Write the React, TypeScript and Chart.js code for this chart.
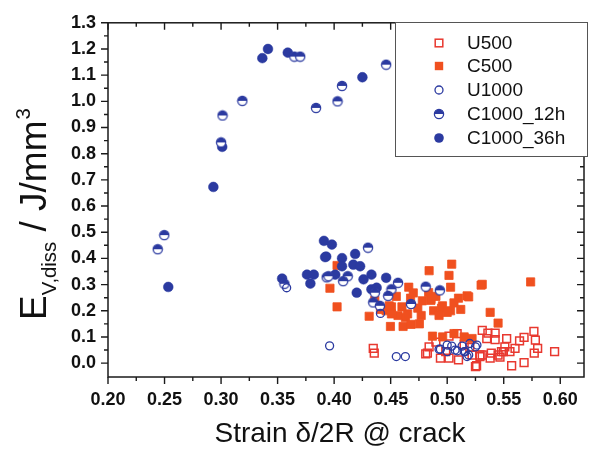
import React, { useEffect, useRef } from 'react';
import { Chart, registerables } from 'chart.js';

Chart.register(...registerables);

const xTickValues = [0.2, 0.25, 0.3, 0.35, 0.4, 0.45, 0.5, 0.55, 0.6];
const xTickLabels = ['0.20', '0.25', '0.30', '0.35', '0.40', '0.45', '0.50', '0.55', '0.60'];
const xMinorValues = [0.225, 0.275, 0.325, 0.375, 0.425, 0.475, 0.525, 0.575];
const yTickValues = [0, 0.1, 0.2, 0.3, 0.4, 0.5, 0.6, 0.7, 0.8, 0.9, 1.0, 1.1, 1.2, 1.3];
const yTickLabels = ['0.0', '0.1', '0.2', '0.3', '0.4', '0.5', '0.6', '0.7', '0.8', '0.9', '1.0', '1.1', '1.2', '1.3'];
const yMinorValues = [0.05, 0.15, 0.25, 0.35, 0.45, 0.55, 0.65, 0.75, 0.85, 0.95, 1.05, 1.15, 1.25];

const seriesNames = ['U500', 'C500', 'U1000', 'C1000_12h', 'C1000_36h'];

const u500X = [0.4346, 0.4355, 0.481, 0.484, 0.5016, 0.5088, 0.51, 0.525, 0.531, 0.536, 0.5424, 0.535, 0.5424, 0.5526, 0.56, 0.568, 0.5767, 0.578, 0.58, 0.577, 0.595, 0.568, 0.557, 0.548, 0.551, 0.539, 0.531, 0.538, 0.5467, 0.522, 0.5016, 0.564, 0.5497, 0.545, 0.529, 0.526, 0.5555, 0.4825, 0.494, 0.4987, 0.529, 0.49, 0.515, 0.52];
const u500Y = [0.056, 0.038, 0.035, 0.062, 0.103, 0.113, 0.012, -0.013, 0.125, 0.115, 0.115, 0.094, 0.09, 0.094, 0.056, 0.098, 0.121, 0.088, 0.056, 0.038, 0.044, 0.002, -0.01, 0.044, 0.062, 0.038, 0.031, 0.019, 0.023, 0.031, 0.019, 0.085, 0.044, 0.031, 0.025, -0.01, 0.044, 0.038, 0.019, 0.044, 0.031, 0.08, 0.07, 0.06];

const c500X = [0.4026, 0.3963, 0.4026, 0.431, 0.4498, 0.461, 0.4507, 0.46, 0.4676, 0.466, 0.484, 0.504, 0.5016, 0.503, 0.531, 0.5738, 0.51, 0.5176, 0.4836, 0.4856, 0.478, 0.474, 0.488, 0.495, 0.503, 0.538, 0.545, 0.477, 0.463, 0.4565, 0.446, 0.468, 0.487, 0.496, 0.515, 0.522, 0.506, 0.4487, 0.4507, 0.465, 0.4754, 0.4928, 0.4958, 0.5, 0.519, 0.4856, 0.53, 0.436, 0.441, 0.455, 0.47, 0.49, 0.506, 0.512];
const c500Y = [0.373, 0.286, 0.215, 0.179, 0.14, 0.14, 0.215, 0.215, 0.248, 0.29, 0.353, 0.378, 0.335, 0.29, 0.301, 0.31, 0.248, 0.257, 0.269, 0.24, 0.238, 0.21, 0.2, 0.21, 0.2, 0.194, 0.153, 0.182, 0.175, 0.182, 0.2, 0.148, 0.103, 0.1, 0.1, 0.094, 0.113, 0.219, 0.188, 0.188, 0.15, 0.182, 0.219, 0.194, 0.253, 0.244, 0.298, 0.24, 0.205, 0.255, 0.268, 0.255, 0.23, 0.205];

const u1000X = [0.358, 0.396, 0.455, 0.463, 0.494, 0.5, 0.504, 0.5, 0.507, 0.5132, 0.516, 0.519, 0.52, 0.5263, 0.5176, 0.509, 0.515, 0.525, 0.4928, 0.441];
const u1000Y = [0.288, 0.066, 0.025, 0.025, 0.053, 0.069, 0.065, 0.044, 0.05, 0.065, 0.044, 0.031, 0.075, 0.069, 0.025, 0.047, 0.044, 0.062, 0.053, 0.19];

const c1000h12X = [0.3648, 0.37, 0.446, 0.407, 0.403, 0.384, 0.3188, 0.3013, 0.3, 0.2498, 0.244, 0.43, 0.356, 0.3934, 0.395, 0.412, 0.408, 0.4565, 0.436, 0.4507, 0.4478, 0.4346, 0.4405, 0.468, 0.481, 0.4935];
const c1000h12Y = [1.171, 1.171, 1.14, 1.059, 1.0, 0.975, 1.002, 0.946, 0.843, 0.489, 0.435, 0.441, 0.303, 0.328, 0.332, 0.332, 0.313, 0.307, 0.269, 0.282, 0.257, 0.232, 0.219, 0.226, 0.292, 0.278];

const c1000h36X = [0.3365, 0.3415, 0.359, 0.425, 0.301, 0.2932, 0.2533, 0.354, 0.376, 0.382, 0.379, 0.391, 0.398, 0.393, 0.407, 0.4186, 0.392, 0.407, 0.417, 0.423, 0.401, 0.433, 0.426, 0.446, 0.42, 0.433, 0.4376];
const c1000h36Y = [1.165, 1.2, 1.186, 1.092, 0.826, 0.673, 0.291, 0.323, 0.338, 0.338, 0.304, 0.467, 0.453, 0.407, 0.401, 0.417, 0.405, 0.37, 0.376, 0.37, 0.338, 0.338, 0.32, 0.326, 0.269, 0.282, 0.288];

const xTitle = 'Strain δ/2R @ crack';
const yTitleMain = 'E';
const yTitleSub = 'V,diss';
const yTitleUnit = ' / J/mm';
const yTitleSup = '3';

const FONT = '"Liberation Sans", Arial, sans-serif';
const BLUE = '#2b3aa0';
const RED_OPEN = '#e8382f';
const RED_FILL = '#f0501f';
const AXIS = '#1a1a1a';

function makeHalf(): HTMLCanvasElement {
  const c = document.createElement('canvas');
  c.width = 12;
  c.height = 12;
  const g = c.getContext('2d')!;
  g.beginPath();
  g.arc(6, 6, 4.6, 0, Math.PI * 2);
  g.fillStyle = '#fff';
  g.fill();
  g.beginPath();
  g.arc(6, 6, 4.6, Math.PI, Math.PI * 2);
  g.closePath();
  g.fillStyle = BLUE;
  g.fill();
  g.beginPath();
  g.arc(6, 6, 4.6, 0, Math.PI * 2);
  g.strokeStyle = BLUE;
  g.lineWidth = 1.3;
  g.stroke();
  return c;
}

const pts = (xs: number[], ys: number[]) => xs.map((x, i) => ({ x, y: ys[i] }));

export default function App() {
  const ref = useRef<HTMLCanvasElement>(null);
  useEffect(() => {
    const half = makeHalf();
    const decor = {
      id: 'decor',
      afterDraw(chart: any) {
        const ctx = chart.ctx;
        const xs = chart.scales.x;
        const ys = chart.scales.y;
        const { left, right, top, bottom } = chart.chartArea;
        ctx.save();
        ctx.strokeStyle = AXIS;
        ctx.lineWidth = 1.5;
        ctx.strokeRect(left, top, right - left, bottom - top);
        ctx.lineWidth = 1.4;
        ctx.beginPath();
        const tick = (v: number, len: number, axis: 'x' | 'y') => {
          if (axis === 'x') {
            const p = xs.getPixelForValue(v);
            ctx.moveTo(p, bottom);
            ctx.lineTo(p, bottom + len);
            ctx.moveTo(p, top);
            ctx.lineTo(p, top + len);
          } else {
            const p = ys.getPixelForValue(v);
            ctx.moveTo(left, p);
            ctx.lineTo(left - len, p);
            ctx.moveTo(right, p);
            ctx.lineTo(right - len, p);
          }
        };
        xTickValues.forEach((v) => tick(v, 7, 'x'));
        xMinorValues.forEach((v) => tick(v, 4, 'x'));
        yTickValues.forEach((v) => tick(v, 7, 'y'));
        yMinorValues.forEach((v) => tick(v, 4, 'y'));
        ctx.stroke();

        // legend
        const lx = 395, ly = 22, lw = 192, lh = 134;
        ctx.fillStyle = '#fff';
        ctx.fillRect(lx, ly, lw, lh);
        ctx.strokeStyle = '#555';
        ctx.lineWidth = 1;
        ctx.strokeRect(lx + 0.5, ly + 0.5, lw, lh);
        const rows = [43, 66, 90, 114, 138];
        ctx.font = `19px ${FONT}`;
        ctx.textBaseline = 'middle';
        ctx.textAlign = 'left';
        rows.forEach((ry, i) => {
          const mx = 439;
          if (i === 0) {
            ctx.strokeStyle = RED_OPEN;
            ctx.lineWidth = 1.5;
            ctx.strokeRect(mx - 3.8, ry - 3.8, 7.6, 7.6);
          } else if (i === 1) {
            ctx.fillStyle = RED_FILL;
            ctx.fillRect(mx - 4.2, ry - 4.2, 8.4, 8.4);
          } else if (i === 2) {
            ctx.strokeStyle = BLUE;
            ctx.lineWidth = 1.3;
            ctx.beginPath();
            ctx.arc(mx, ry, 4, 0, Math.PI * 2);
            ctx.stroke();
          } else if (i === 3) {
            ctx.drawImage(half, mx - 6, ry - 6);
          } else {
            ctx.fillStyle = BLUE;
            ctx.beginPath();
            ctx.arc(mx, ry, 4.8, 0, Math.PI * 2);
            ctx.fill();
          }
          ctx.fillStyle = '#111';
          ctx.fillText(seriesNames[i], 467, ry + 1);
        });

        // x title
        ctx.fillStyle = '#111';
        ctx.textAlign = 'center';
        ctx.textBaseline = 'alphabetic';
        ctx.font = `28px ${FONT}`;
        ctx.fillText(xTitle, 340, 442);

        // y title
        const F = 37;
        ctx.translate(46, 320);
        ctx.rotate(-Math.PI / 2);
        ctx.textAlign = 'left';
        let cx = 0;
        ctx.font = `${F}px ${FONT}`;
        ctx.fillText(yTitleMain, cx, 0);
        cx += ctx.measureText(yTitleMain).width;
        ctx.font = `${F * 0.55}px ${FONT}`;
        ctx.fillText(yTitleSub, cx, F * 0.27);
        cx += ctx.measureText(yTitleSub).width;
        ctx.font = `${F}px ${FONT}`;
        ctx.fillText(yTitleUnit, cx, 0);
        cx += ctx.measureText(yTitleUnit).width;
        ctx.font = `${F * 0.55}px ${FONT}`;
        ctx.fillText(yTitleSup, cx + 1, -F * 0.42);
        ctx.restore();
      },
    };

    const chart = new Chart(ref.current!, {
      type: 'scatter',
      data: {
        datasets: [
          { label: seriesNames[0], data: pts(u500X, u500Y), pointStyle: 'rect', pointRadius: 5.5, borderWidth: 1.5, borderColor: RED_OPEN, backgroundColor: 'rgba(255,255,255,0)', order: 5 },
          { label: seriesNames[1], data: pts(c500X, c500Y), pointStyle: 'rect', pointRadius: 5.8, borderWidth: 0.8, borderColor: RED_FILL, backgroundColor: RED_FILL, order: 4 },
          { label: seriesNames[4], data: pts(c1000h36X, c1000h36Y), pointStyle: 'circle', pointRadius: 4.9, borderWidth: 0.5, borderColor: BLUE, backgroundColor: BLUE, order: 3 },
          { label: seriesNames[3], data: pts(c1000h12X, c1000h12Y), pointStyle: half as any, pointRadius: 5, order: 2 },
          { label: seriesNames[2], data: pts(u1000X, u1000Y), pointStyle: 'circle', pointRadius: 4, borderWidth: 1.3, borderColor: BLUE, backgroundColor: 'rgba(255,255,255,0)', order: 1 },
        ],
      },
      options: {
        responsive: false,
        animation: false,
        events: [],
        layout: { padding: { top: 17, right: 1, left: 0, bottom: 0 } },
        plugins: { legend: { display: false }, tooltip: { enabled: false } },
        scales: {
          x: {
            type: 'linear',
            min: 0.2,
            max: 0.621,
            bounds: 'data',
            grid: { display: false, drawTicks: false },
            border: { display: false },
            afterFit: (s: any) => { s.height = 76; },
            afterBuildTicks: (s: any) => { s.ticks = xTickValues.map((v) => ({ value: v })); },
            ticks: {
              callback: (_v: any, i: number) => xTickLabels[i],
              font: { family: FONT, size: 18, weight: 'bold' },
              color: '#111',
              padding: 12,
              maxRotation: 0,
              autoSkip: false,
            },
          },
          y: {
            type: 'linear',
            min: -0.053,
            max: 1.3,
            bounds: 'data',
            grid: { display: false, drawTicks: false },
            border: { display: false },
            afterFit: (s: any) => { s.width = 108; },
            afterBuildTicks: (s: any) => { s.ticks = yTickValues.map((v) => ({ value: v })); },
            ticks: {
              callback: (_v: any, i: number) => yTickLabels[i],
              font: { family: FONT, size: 18, weight: 'bold' },
              color: '#111',
              padding: 12,
              autoSkip: false,
            },
          },
        },
      } as any,
      plugins: [decor],
    });
    return () => chart.destroy();
  }, []);

  return (
    <div style={{ position: 'fixed', left: 0, top: 0, width: 591, height: 453, background: '#fff' }}>
      <canvas ref={ref} width={591} height={453} style={{ display: 'block' }} />
    </div>
  );
}
